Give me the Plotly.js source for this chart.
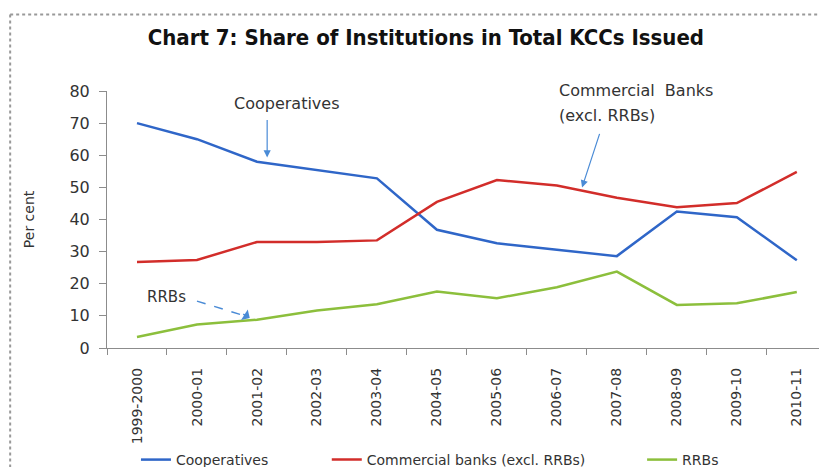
<!DOCTYPE html>
<html>
<head>
<meta charset="utf-8">
<script src="https://cdn.plot.ly/plotly-3.0.1.min.js"></script>
<style>
  body { margin: 0; background: #fff; }
  #chart { width: 819px; height: 467px; }
</style>
</head>
<body>
<div id="chart"></div>
<script>
const years = ['1999-2000', '2000-01', '2001-02', '2002-03', '2003-04', '2004-05',
  '2005-06', '2006-07', '2007-08', '2008-09', '2009-10', '2010-11']
const cooperatives = [70, 65, 58, 55.3, 52.8, 36.8, 32.6, 30.6, 28.6, 42.5, 40.7, 27.3]
const commercialBanks = [26.8, 27.4, 33, 33, 33.5, 45.5, 52.3, 50.6, 46.8, 43.8, 45.1, 54.8]
const rrbs = [3.4, 7.3, 8.8, 11.7, 13.6, 17.6, 15.5, 18.9, 23.8, 13.4, 13.9, 17.4]
const yTicks = [0, 10, 20, 30, 40, 50, 60, 70, 80]

const font = 'DejaVu Sans, sans-serif'
const gray = '#8c8c8c'
const arrowBlue = '#4a8bd6'

const trace1 = {
  x: years, y: cooperatives, name: 'Cooperatives',
  mode: 'lines', line: {color: '#2f66c8', width: 2.5}, legend: 'legend'
}
const trace2 = {
  x: years, y: commercialBanks, name: 'Commercial banks (excl. RRBs)',
  mode: 'lines', line: {color: '#d22d2a', width: 2.5}, legend: 'legend2'
}
const trace3 = {
  x: years, y: rrbs, name: 'RRBs',
  mode: 'lines', line: {color: '#8cbf3c', width: 2.5}, legend: 'legend3'
}

// legends placed on the container so they don't squeeze the plot area
const legendBase = {
  orientation: 'h', xref: 'container', yref: 'container',
  yanchor: 'middle', y: 0.015, xanchor: 'left',
  font: {family: font, size: 14, color: '#333'}, bgcolor: 'rgba(0,0,0,0)'
}

const layout = {
  width: 819, height: 467,
  margin: {l: 107, r: 0, t: 91, b: 119},
  paper_bgcolor: '#fff', plot_bgcolor: '#fff',
  title: {
    text: '<b>Chart 7: Share of Institutions in Total KCCs Issued</b>',
    font: {family: 'Liberation Sans Narrow, DejaVu Sans Condensed, sans-serif', size: 22, color: '#111'},
    x: 0.52, xanchor: 'center', y: 0.92, yanchor: 'middle'
  },
  showlegend: true,
  legend: {...legendBase, x: 0.166},
  legend2: {...legendBase, x: 0.399},
  legend3: {...legendBase, x: 0.784},
  xaxis: {
    type: 'category', range: [-0.5, 11.37], automargin: false,
    tickvals: years, ticktext: years.map(y => y + '\u00a0\u00a0\u00a0'),
    showline: true, linecolor: gray, linewidth: 1,
    ticks: 'outside', tickson: 'boundaries', ticklen: 6, tickcolor: gray,
    tickangle: -90, tickfont: {family: font, size: 14, color: '#333'},
    showgrid: false, zeroline: false, fixedrange: true
  },
  yaxis: {
    range: [0, 80], tickvals: yTicks, automargin: false,
    showline: true, linecolor: gray, linewidth: 1,
    ticks: 'outside', ticklen: 7, tickcolor: gray,
    ticklabelstandoff: 6,
    tickfont: {family: font, size: 16, color: '#333'},
    showgrid: false, zeroline: false, fixedrange: true
  },
  shapes: [
    {type: 'line', xref: 'paper', yref: 'paper', x0: -0.136, x1: 1.01, y0: 1.298, y1: 1.298,
      line: {color: '#999', width: 2, dash: 'dot'}},
    {type: 'line', xref: 'paper', yref: 'paper', x0: -0.136, x1: -0.136, y0: 1.298, y1: -0.48,
      line: {color: '#999', width: 2, dash: 'dot'}},
    {type: 'line', xref: 'x', yref: 'y', x0: 1.0, y0: 14.6, x1: 1.8, y1: 10,
      line: {color: arrowBlue, width: 1.5, dash: 'dash'}}
  ],
  annotations: [
    {xref: 'paper', yref: 'paper', x: -0.11, y: 0.5, xanchor: 'center', yanchor: 'middle',
      text: 'Per cent', textangle: -90, showarrow: false,
      font: {family: font, size: 14, color: '#333'}},
    {xref: 'x', yref: 'y', x: 2.5, y: 76.2, text: 'Cooperatives', showarrow: false,
      font: {family: font, size: 16, color: '#333'}},
    {xref: 'x', yref: 'y', x: 2.17, y: 59.3, text: '', showarrow: true, ax: 0, ay: -39,
      arrowhead: 2, arrowsize: 1.2, arrowwidth: 1.2, arrowcolor: arrowBlue},
    {xref: 'x', yref: 'paper', x: 7.0, y: 1.003, xanchor: 'left', yanchor: 'middle',
      text: 'Commercial  Banks', showarrow: false,
      font: {family: font, size: 16, color: '#333'}},
    {xref: 'x', yref: 'y', x: 7.0, y: 72.4, xanchor: 'left', yanchor: 'middle',
      text: '(excl. RRBs)', showarrow: false,
      font: {family: font, size: 16, color: '#333'}},
    {xref: 'x', yref: 'y', x: 7.42, y: 50, text: '', showarrow: true, ax: 18, ay: -55,
      arrowhead: 2, arrowsize: 1.2, arrowwidth: 1.2, arrowcolor: arrowBlue},
    {xref: 'x', yref: 'y', x: 0.5, y: 15.8, text: 'RRBs', showarrow: false,
      font: {family: font, size: 15, color: '#333'}},
    {xref: 'x', yref: 'y', x: 1.88, y: 9.3, text: '', showarrow: true, ax: -8, ay: -5,
      arrowhead: 1, arrowsize: 1.4, arrowwidth: 1.5, arrowcolor: arrowBlue}
  ]
}

const config = {displayModeBar: false, staticPlot: true}

Plotly.newPlot('chart', [trace1, trace2, trace3], layout, config)
</script>
</body>
</html>
